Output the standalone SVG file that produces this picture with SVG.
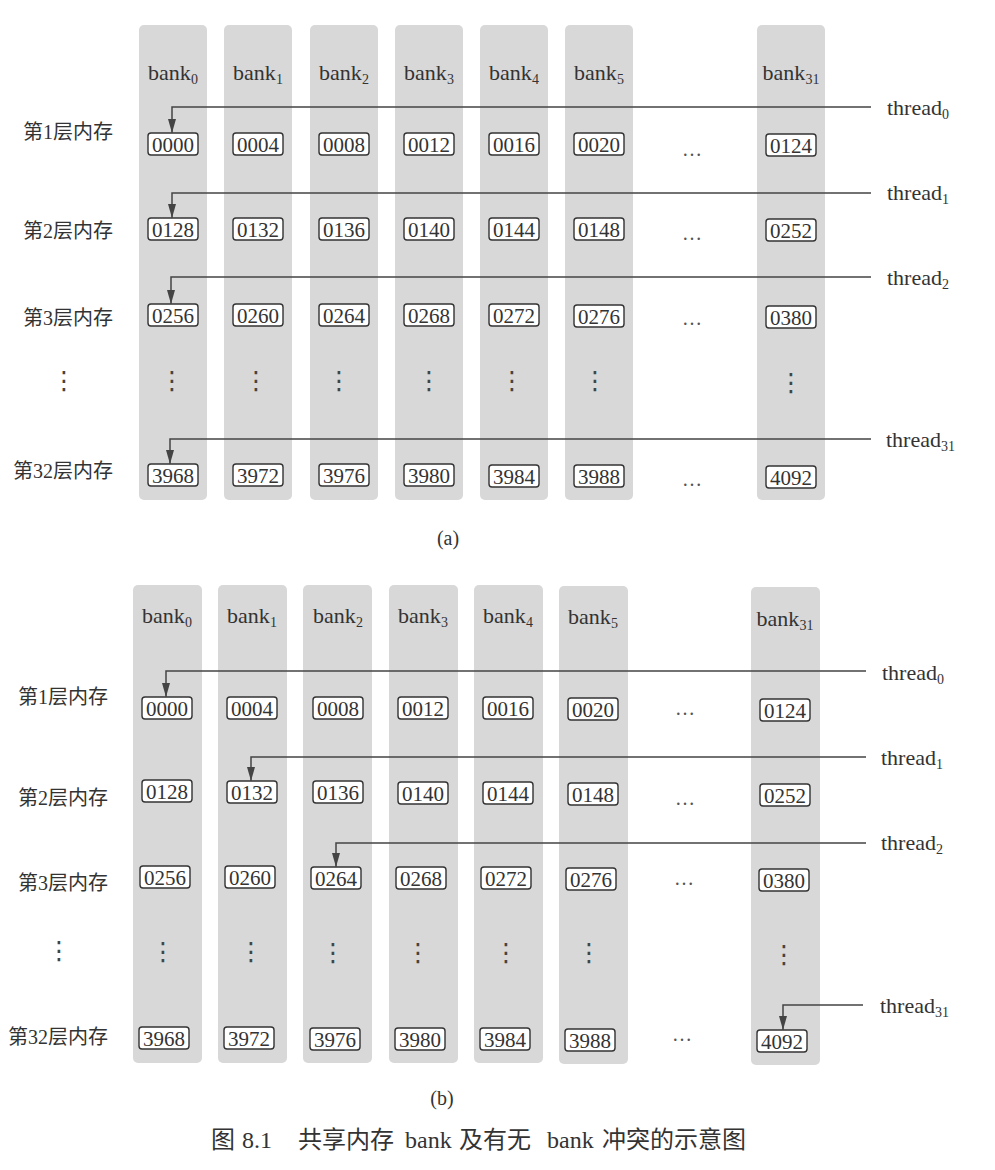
<svg xmlns="http://www.w3.org/2000/svg" width="995" height="1170" viewBox="0 0 995 1170">
<style>
.col{fill:#d8d8d8}
.lbl{font-family:"Liberation Serif","DejaVu Serif",serif;fill:#333}
.bank{font-size:22px;text-anchor:middle}
.sub{font-size:14px}
.cell rect{fill:#fff;stroke:#333;stroke-width:1.4}
.cell text{font-family:"Liberation Serif","DejaVu Serif",serif;font-size:21px;fill:#333;text-anchor:middle}
.row{font-family:"Liberation Serif","Noto Sans CJK SC",serif;font-size:20px;fill:#333;text-anchor:end}
.thr{font-size:22px}
.ell{font-family:"Liberation Serif",serif;font-size:20px;fill:#555;text-anchor:middle}
.vd{font-family:"DejaVu Sans",sans-serif;font-size:25px;fill:#444;text-anchor:middle}
.cap{font-family:"Liberation Serif","Noto Sans CJK SC",serif;font-size:20px;fill:#333;text-anchor:middle}
.fig{font-family:"Liberation Serif","Noto Sans CJK SC",serif;font-size:24px;fill:#333}
.conn path{fill:none;stroke:#444;stroke-width:1.5}
</style>
<defs>
<marker id="arr" markerUnits="userSpaceOnUse" markerWidth="16" markerHeight="10" viewBox="0 0 16 10" refX="14" refY="5" orient="auto">
<path d="M0,1 L14,5 L0,9 Z" fill="#444"/>
</marker>
</defs>
<rect width="995" height="1170" fill="#fff"/>

<!-- ===== Part (a) ===== -->
<g id="a-columns">
<rect class="col" x="139" y="25" width="68" height="475" rx="5"/>
<rect class="col" x="224" y="25" width="68" height="475" rx="5"/>
<rect class="col" x="310" y="25" width="68" height="475" rx="5"/>
<rect class="col" x="395" y="25" width="68" height="475" rx="5"/>
<rect class="col" x="480" y="25" width="68" height="475" rx="5"/>
<rect class="col" x="565" y="25" width="68" height="475" rx="5"/>
<rect class="col" x="757" y="25" width="68" height="475" rx="5"/>
</g>
<g id="a-bank-labels" class="lbl bank">
<text x="173" y="80">bank<tspan class="sub" dy="4">0</tspan></text>
<text x="258" y="80">bank<tspan class="sub" dy="4">1</tspan></text>
<text x="344" y="80">bank<tspan class="sub" dy="4">2</tspan></text>
<text x="429" y="80">bank<tspan class="sub" dy="4">3</tspan></text>
<text x="514" y="80">bank<tspan class="sub" dy="4">4</tspan></text>
<text x="599" y="80">bank<tspan class="sub" dy="4">5</tspan></text>
<text x="791" y="80">bank<tspan class="sub" dy="4">31</tspan></text>
</g>
<g id="a-row-labels" class="row">
<text x="113" y="139">第1层内存</text>
<text x="113" y="238">第2层内存</text>
<text x="113" y="325">第3层内存</text>
<text x="113" y="478">第32层内存</text>
</g>
<g id="a-cells">
<g class="cell" id="a-0000"><rect x="148" y="133" width="50" height="22" rx="3"/><text x="173" y="151.5">0000</text></g>
<g class="cell" id="a-0004"><rect x="233" y="133" width="50" height="22" rx="3"/><text x="258" y="151.5">0004</text></g>
<g class="cell" id="a-0008"><rect x="319" y="133" width="50" height="22" rx="3"/><text x="344" y="151.5">0008</text></g>
<g class="cell" id="a-0012"><rect x="404" y="133" width="50" height="22" rx="3"/><text x="429" y="151.5">0012</text></g>
<g class="cell" id="a-0016"><rect x="489" y="133" width="50" height="22" rx="3"/><text x="514" y="151.5">0016</text></g>
<g class="cell" id="a-0020"><rect x="574" y="133" width="50" height="22" rx="3"/><text x="599" y="151.5">0020</text></g>
<g class="cell" id="a-0124"><rect x="766" y="134" width="50" height="22" rx="3"/><text x="791" y="152.5">0124</text></g>

<g class="cell" id="a-0128"><rect x="148" y="218" width="50" height="22" rx="3"/><text x="173" y="236.5">0128</text></g>
<g class="cell" id="a-0132"><rect x="233" y="218" width="50" height="22" rx="3"/><text x="258" y="236.5">0132</text></g>
<g class="cell" id="a-0136"><rect x="319" y="218" width="50" height="22" rx="3"/><text x="344" y="236.5">0136</text></g>
<g class="cell" id="a-0140"><rect x="404" y="218" width="50" height="22" rx="3"/><text x="429" y="236.5">0140</text></g>
<g class="cell" id="a-0144"><rect x="489" y="218" width="50" height="22" rx="3"/><text x="514" y="236.5">0144</text></g>
<g class="cell" id="a-0148"><rect x="574" y="218" width="50" height="22" rx="3"/><text x="599" y="236.5">0148</text></g>
<g class="cell" id="a-0252"><rect x="766" y="219" width="50" height="22" rx="3"/><text x="791" y="237.5">0252</text></g>

<g class="cell" id="a-0256"><rect x="148" y="304" width="50" height="22" rx="3"/><text x="173" y="322.5">0256</text></g>
<g class="cell" id="a-0260"><rect x="233" y="304" width="50" height="22" rx="3"/><text x="258" y="322.5">0260</text></g>
<g class="cell" id="a-0264"><rect x="319" y="304" width="50" height="22" rx="3"/><text x="344" y="322.5">0264</text></g>
<g class="cell" id="a-0268"><rect x="404" y="304" width="50" height="22" rx="3"/><text x="429" y="322.5">0268</text></g>
<g class="cell" id="a-0272"><rect x="489" y="304" width="50" height="22" rx="3"/><text x="514" y="322.5">0272</text></g>
<g class="cell" id="a-0276"><rect x="574" y="305" width="50" height="22" rx="3"/><text x="599" y="323.5">0276</text></g>
<g class="cell" id="a-0380"><rect x="766" y="306" width="50" height="22" rx="3"/><text x="791" y="324.5">0380</text></g>

<g class="cell" id="a-3968"><rect x="148" y="464" width="50" height="22" rx="3"/><text x="173" y="482.5">3968</text></g>
<g class="cell" id="a-3972"><rect x="233" y="464" width="50" height="22" rx="3"/><text x="258" y="482.5">3972</text></g>
<g class="cell" id="a-3976"><rect x="319" y="464" width="50" height="22" rx="3"/><text x="344" y="482.5">3976</text></g>
<g class="cell" id="a-3980"><rect x="404" y="464" width="50" height="22" rx="3"/><text x="429" y="482.5">3980</text></g>
<g class="cell" id="a-3984"><rect x="489" y="465" width="50" height="22" rx="3"/><text x="514" y="483.5">3984</text></g>
<g class="cell" id="a-3988"><rect x="574" y="465" width="50" height="22" rx="3"/><text x="599" y="483.5">3988</text></g>
<g class="cell" id="a-4092"><rect x="766" y="466" width="50" height="22" rx="3"/><text x="791" y="484.5">4092</text></g>
</g>
<g id="a-ellipses">
<text class="ell" x="692" y="156">…</text>
<text class="ell" x="692" y="240">…</text>
<text class="ell" x="692" y="325">…</text>
<text class="ell" x="692" y="486">…</text>
<text class="vd" x="64" y="389">⋮</text>
<text class="vd" x="172" y="389">⋮</text>
<text class="vd" x="256" y="389">⋮</text>
<text class="vd" x="339" y="389">⋮</text>
<text class="vd" x="429" y="389">⋮</text>
<text class="vd" x="512" y="389">⋮</text>
<text class="vd" x="595" y="389">⋮</text>
<text class="vd" x="791" y="391">⋮</text>
</g>
<g id="a-connectors" class="conn">
<path d="M871,107 H172 V133" marker-end="url(#arr)"/>
<path d="M871,193 H172 V218" marker-end="url(#arr)"/>
<path d="M871,277 H171 V304" marker-end="url(#arr)"/>
<path d="M871,439 H170 V464" marker-end="url(#arr)"/>
</g>
<g id="a-threads" class="lbl thr">
<text x="887" y="115">thread<tspan class="sub" dy="4">0</tspan></text>
<text x="887" y="200">thread<tspan class="sub" dy="4">1</tspan></text>
<text x="887" y="285">thread<tspan class="sub" dy="4">2</tspan></text>
<text x="886" y="447">thread<tspan class="sub" dy="4">31</tspan></text>
</g>
<text class="cap" x="448" y="545">(a)</text>

<!-- ===== Part (b) ===== -->
<g id="b-columns">
<rect class="col" x="133" y="585" width="69" height="478" rx="5"/>
<rect class="col" x="218" y="585" width="69" height="478" rx="5"/>
<rect class="col" x="303" y="585" width="69" height="478" rx="5"/>
<rect class="col" x="389" y="585" width="69" height="478" rx="5"/>
<rect class="col" x="474" y="585" width="69" height="478" rx="5"/>
<rect class="col" x="559" y="586" width="69" height="478" rx="5"/>
<rect class="col" x="751" y="587" width="69" height="478" rx="5"/>
</g>
<g id="b-bank-labels" class="lbl bank">
<text x="167" y="623">bank<tspan class="sub" dy="4">0</tspan></text>
<text x="252" y="623">bank<tspan class="sub" dy="4">1</tspan></text>
<text x="338" y="623">bank<tspan class="sub" dy="4">2</tspan></text>
<text x="423" y="623">bank<tspan class="sub" dy="4">3</tspan></text>
<text x="508" y="623">bank<tspan class="sub" dy="4">4</tspan></text>
<text x="593" y="624">bank<tspan class="sub" dy="4">5</tspan></text>
<text x="785" y="626">bank<tspan class="sub" dy="4">31</tspan></text>
</g>
<g id="b-row-labels" class="row">
<text x="108" y="704">第1层内存</text>
<text x="108" y="805">第2层内存</text>
<text x="108" y="890">第3层内存</text>
<text x="108" y="1044">第32层内存</text>
</g>
<g id="b-cells">
<g class="cell" id="b-0000"><rect x="142" y="697" width="50" height="22" rx="3"/><text x="167" y="715.5">0000</text></g>
<g class="cell" id="b-0004"><rect x="227" y="697" width="50" height="22" rx="3"/><text x="252" y="715.5">0004</text></g>
<g class="cell" id="b-0008"><rect x="313" y="697" width="50" height="22" rx="3"/><text x="338" y="715.5">0008</text></g>
<g class="cell" id="b-0012"><rect x="398" y="697" width="50" height="22" rx="3"/><text x="423" y="715.5">0012</text></g>
<g class="cell" id="b-0016"><rect x="483" y="697" width="50" height="22" rx="3"/><text x="508" y="715.5">0016</text></g>
<g class="cell" id="b-0020"><rect x="568" y="698" width="50" height="22" rx="3"/><text x="593" y="716.5">0020</text></g>
<g class="cell" id="b-0124"><rect x="760" y="699" width="50" height="22" rx="3"/><text x="785" y="717.5">0124</text></g>

<g class="cell" id="b-0128"><rect x="142" y="780" width="50" height="22" rx="3"/><text x="167" y="798.5">0128</text></g>
<g class="cell" id="b-0132"><rect x="227" y="781" width="50" height="22" rx="3"/><text x="252" y="799.5">0132</text></g>
<g class="cell" id="b-0136"><rect x="313" y="781" width="50" height="22" rx="3"/><text x="338" y="799.5">0136</text></g>
<g class="cell" id="b-0140"><rect x="398" y="782" width="50" height="22" rx="3"/><text x="423" y="800.5">0140</text></g>
<g class="cell" id="b-0144"><rect x="483" y="782" width="50" height="22" rx="3"/><text x="508" y="800.5">0144</text></g>
<g class="cell" id="b-0148"><rect x="568" y="783" width="50" height="22" rx="3"/><text x="593" y="801.5">0148</text></g>
<g class="cell" id="b-0252"><rect x="760" y="784" width="50" height="22" rx="3"/><text x="785" y="802.5">0252</text></g>

<g class="cell" id="b-0256"><rect x="140" y="866" width="50" height="22" rx="3"/><text x="165" y="884.5">0256</text></g>
<g class="cell" id="b-0260"><rect x="225" y="866" width="50" height="22" rx="3"/><text x="250" y="884.5">0260</text></g>
<g class="cell" id="b-0264"><rect x="311" y="867" width="50" height="22" rx="3"/><text x="336" y="885.5">0264</text></g>
<g class="cell" id="b-0268"><rect x="396" y="867" width="50" height="22" rx="3"/><text x="421" y="885.5">0268</text></g>
<g class="cell" id="b-0272"><rect x="481" y="867" width="50" height="22" rx="3"/><text x="506" y="885.5">0272</text></g>
<g class="cell" id="b-0276"><rect x="566" y="868" width="50" height="22" rx="3"/><text x="591" y="886.5">0276</text></g>
<g class="cell" id="b-0380"><rect x="759" y="869" width="50" height="22" rx="3"/><text x="784" y="887.5">0380</text></g>

<g class="cell" id="b-3968"><rect x="139" y="1027" width="50" height="22" rx="3"/><text x="164" y="1045.5">3968</text></g>
<g class="cell" id="b-3972"><rect x="224" y="1027" width="50" height="22" rx="3"/><text x="249" y="1045.5">3972</text></g>
<g class="cell" id="b-3976"><rect x="310" y="1028" width="50" height="22" rx="3"/><text x="335" y="1046.5">3976</text></g>
<g class="cell" id="b-3980"><rect x="395" y="1028" width="50" height="22" rx="3"/><text x="420" y="1046.5">3980</text></g>
<g class="cell" id="b-3984"><rect x="480" y="1028" width="50" height="22" rx="3"/><text x="505" y="1046.5">3984</text></g>
<g class="cell" id="b-3988"><rect x="565" y="1029" width="50" height="22" rx="3"/><text x="590" y="1047.5">3988</text></g>
<g class="cell" id="b-4092"><rect x="757" y="1030" width="50" height="22" rx="3"/><text x="782" y="1048.5">4092</text></g>
</g>
<g id="b-ellipses">
<text class="ell" x="685" y="715">…</text>
<text class="ell" x="685" y="805">…</text>
<text class="ell" x="684" y="885">…</text>
<text class="ell" x="682" y="1041">…</text>
<text class="vd" x="59" y="959">⋮</text>
<text class="vd" x="163" y="960">⋮</text>
<text class="vd" x="251" y="960">⋮</text>
<text class="vd" x="333" y="961">⋮</text>
<text class="vd" x="418" y="961">⋮</text>
<text class="vd" x="506" y="961">⋮</text>
<text class="vd" x="589" y="961">⋮</text>
<text class="vd" x="784" y="963">⋮</text>
</g>
<g id="b-connectors" class="conn">
<path d="M866,671 H166 V697" marker-end="url(#arr)"/>
<path d="M866,757 H251 V781" marker-end="url(#arr)"/>
<path d="M866,843 H336 V867" marker-end="url(#arr)"/>
<path d="M863,1005 H783 V1030" marker-end="url(#arr)"/>
</g>
<g id="b-threads" class="lbl thr">
<text x="882" y="680">thread<tspan class="sub" dy="4">0</tspan></text>
<text x="881" y="765">thread<tspan class="sub" dy="4">1</tspan></text>
<text x="881" y="850">thread<tspan class="sub" dy="4">2</tspan></text>
<text x="880" y="1013">thread<tspan class="sub" dy="4">31</tspan></text>
</g>
<text class="cap" x="442" y="1105">(b)</text>

<text id="caption" class="fig" y="1148"><tspan x="211">图</tspan><tspan x="242">8.1</tspan><tspan x="298">共享内存</tspan><tspan x="405">bank</tspan><tspan x="459">及有无</tspan><tspan x="547">bank</tspan><tspan x="602">冲突的示意图</tspan></text>
</svg>
